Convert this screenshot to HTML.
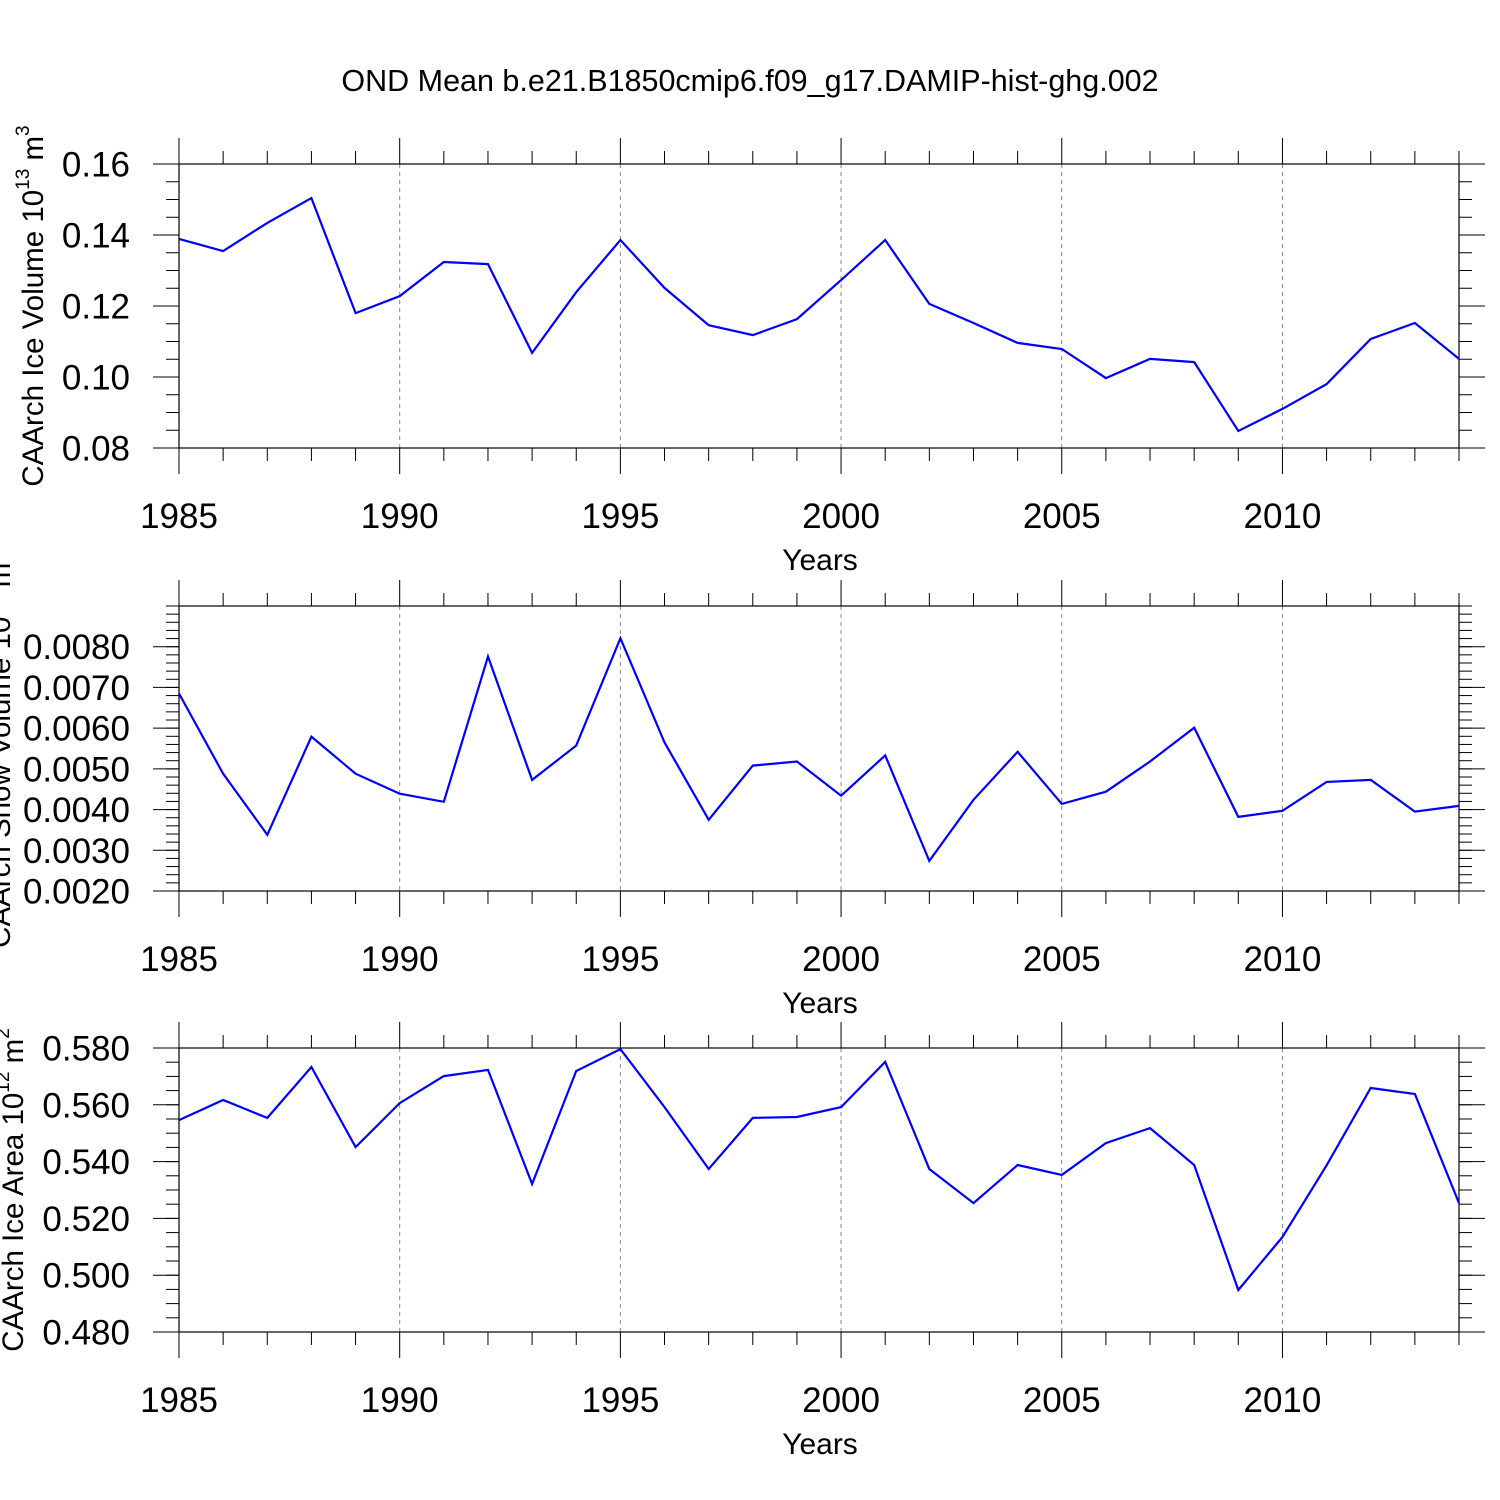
<!DOCTYPE html>
<html><head><meta charset="utf-8"><style>
html,body{margin:0;padding:0;background:#fff;}
svg{display:block;font-family:"Liberation Sans",Arial,sans-serif;}
</style></head>
<body>
<svg id="chart" width="1500" height="1500" viewBox="0 0 1500 1500" xmlns="http://www.w3.org/2000/svg">
<rect width="1500" height="1500" fill="#fff"/>
<text x="750" y="91" font-size="30.5" text-anchor="middle">OND Mean b.e21.B1850cmip6.f09_g17.DAMIP-hist-ghg.002</text>
</svg>
<script>
const years = [1985,1986,1987,1988,1989,1990,1991,1992,1993,1994,1995,1996,1997,1998,1999,2000,2001,2002,2003,2004,2005,2006,2007,2008,2009,2010,2011,2012,2013,2014];
const xTickLabels = ["1985","1990","1995","2000","2005","2010"];
const iceVolume = [0.1389,0.1355,0.1434,0.1504,0.1180,0.1228,0.1324,0.1318,0.1068,0.1239,0.1386,0.1251,0.1146,0.1118,0.1163,0.1273,0.1386,0.1206,0.1152,0.1096,0.1079,0.0997,0.1051,0.1042,0.0848,0.0910,0.0980,0.1107,0.1152,0.1051];
const snowVolume = [0.00685,0.00488,0.00338,0.00579,0.00488,0.00439,0.00419,0.00776,0.00473,0.00557,0.00821,0.00565,0.00375,0.00508,0.00518,0.00434,0.00533,0.00274,0.00424,0.00542,0.00414,0.00444,0.00518,0.00601,0.00382,0.00397,0.00468,0.00473,0.00395,0.00409];
const iceArea = [0.5546,0.5617,0.5554,0.5733,0.5451,0.5606,0.5701,0.5723,0.5321,0.5719,0.5796,0.5592,0.5374,0.5554,0.5557,0.5592,0.5751,0.5374,0.5254,0.5388,0.5353,0.5465,0.5518,0.5388,0.4948,0.5134,0.5387,0.5659,0.5638,0.5254];
const yTicks1 = ["0.08","0.10","0.12","0.14","0.16"];
const yTicks2 = ["0.0020","0.0030","0.0040","0.0050","0.0060","0.0070","0.0080"];
const yTicks3 = ["0.480","0.500","0.520","0.540","0.560","0.580"];

const svg = document.getElementById('chart');
const NS = 'http://www.w3.org/2000/svg';
function mk(tag, attrs, parent){const e=document.createElementNS(NS,tag);for(const k in attrs)e.setAttribute(k,attrs[k]);(parent||svg).appendChild(e);return e;}

const X0=179, X1=1459;
function xs(yr){return X0+(yr-1985)/(2014-1985)*(X1-X0);}

const panels = [
 {name:'ice-volume', top:164, bot:448, ymin:0.08, ymax:0.16, ticks:yTicks1, minorStep:0.005, data:iceVolume, label:'CAArch Ice Volume 10', sup:'13', unit:' m', sup2:'3', lx:43, ly:306},
 {name:'snow-volume', top:606, bot:891, ymin:0.002, ymax:0.009, ticks:yTicks2, minorStep:0.0002, data:snowVolume, label:'CAArch Snow Volume 10', sup:'13', unit:' m', sup2:'3', lx:10, ly:750},
 {name:'ice-area', top:1048, bot:1332, ymin:0.48, ymax:0.58, ticks:yTicks3, minorStep:0.005, data:iceArea, label:'CAArch Ice Area 10', sup:'12', unit:' m', sup2:'2', lx:23, ly:1190}
];

panels.forEach(p=>{
 const g = mk('g',{});
 
 
 const ys = v => p.bot-(v-p.ymin)/(p.ymax-p.ymin)*(p.bot-p.top);
 [1990,1995,2000,2005,2010].forEach(yr=>{
  const l=mk('line',{x1:xs(yr),x2:xs(yr),y1:p.top,y2:p.bot,stroke:'#888','stroke-width':1,'stroke-dasharray':'4,4'},g);
  
  
 });
 years.forEach(yr=>{
  const major = (yr-1985)%5===0;
  const x=xs(yr), len = major?26:13;
  mk('line',{x1:x,x2:x,y1:p.top-len,y2:p.top,stroke:'#000','stroke-width':1},g);
  mk('line',{x1:x,x2:x,y1:p.bot,y2:p.bot+len,stroke:'#000','stroke-width':1},g);
 });
 xTickLabels.forEach(s=>{
  const t=mk('text',{x:xs(+s),y:p.bot+80,'font-size':35,'text-anchor':'middle'},g);
  
  
  t.textContent=s;
 });
 const nMinor = Math.round((p.ymax-p.ymin)/p.minorStep);
 for(let i=0;i<=nMinor;i++){
  const v=p.ymin+i*p.minorStep, y=ys(v);
  mk('line',{x1:X0-13,x2:X0,y1:y,y2:y,stroke:'#000','stroke-width':1},g);
  mk('line',{x1:X1,x2:X1+13,y1:y,y2:y,stroke:'#000','stroke-width':1},g);
 }
 p.ticks.forEach(s=>{
  const y=ys(parseFloat(s));
  mk('line',{x1:X0-26,x2:X0,y1:y,y2:y,stroke:'#000','stroke-width':1},g);
  mk('line',{x1:X1,x2:X1+26,y1:y,y2:y,stroke:'#000','stroke-width':1},g);
  const t=mk('text',{x:130,y:y+12.5,'font-size':35,'text-anchor':'end'},g);
  
  
  t.textContent=s;
 });
 const fr=mk('rect',{x:X0,y:p.top,width:X1-X0,height:p.bot-p.top,fill:'none',stroke:'#000','stroke-width':1.2},g);
 
 
 const pts = p.data.map((v,i)=>xs(years[i]).toFixed(1)+','+ys(v).toFixed(1)).join(' ');
 const pl=mk('polyline',{points:pts,fill:'none',stroke:'#0000ff','stroke-width':2.2,'stroke-linejoin':'miter'},g);
 
 
 const xt=mk('text',{x:820,y:p.bot+122,'font-size':30,'text-anchor':'middle'},g);
 
 
 xt.textContent='Years';
 const yt=mk('text',{x:0,y:0,'font-size':29.5,'text-anchor':'middle',transform:`translate(${p.lx},${p.ly}) rotate(-90)`},g);
 
 
 const a=mk('tspan',{},yt); a.textContent=p.label;
 const b=mk('tspan',{dy:-14,'font-size':19},yt); b.textContent=p.sup;
 const c=mk('tspan',{dy:14},yt); c.textContent=p.unit;
 const d=mk('tspan',{dy:-14,'font-size':19},yt); d.textContent=p.sup2;
});
</script>
</body></html>
